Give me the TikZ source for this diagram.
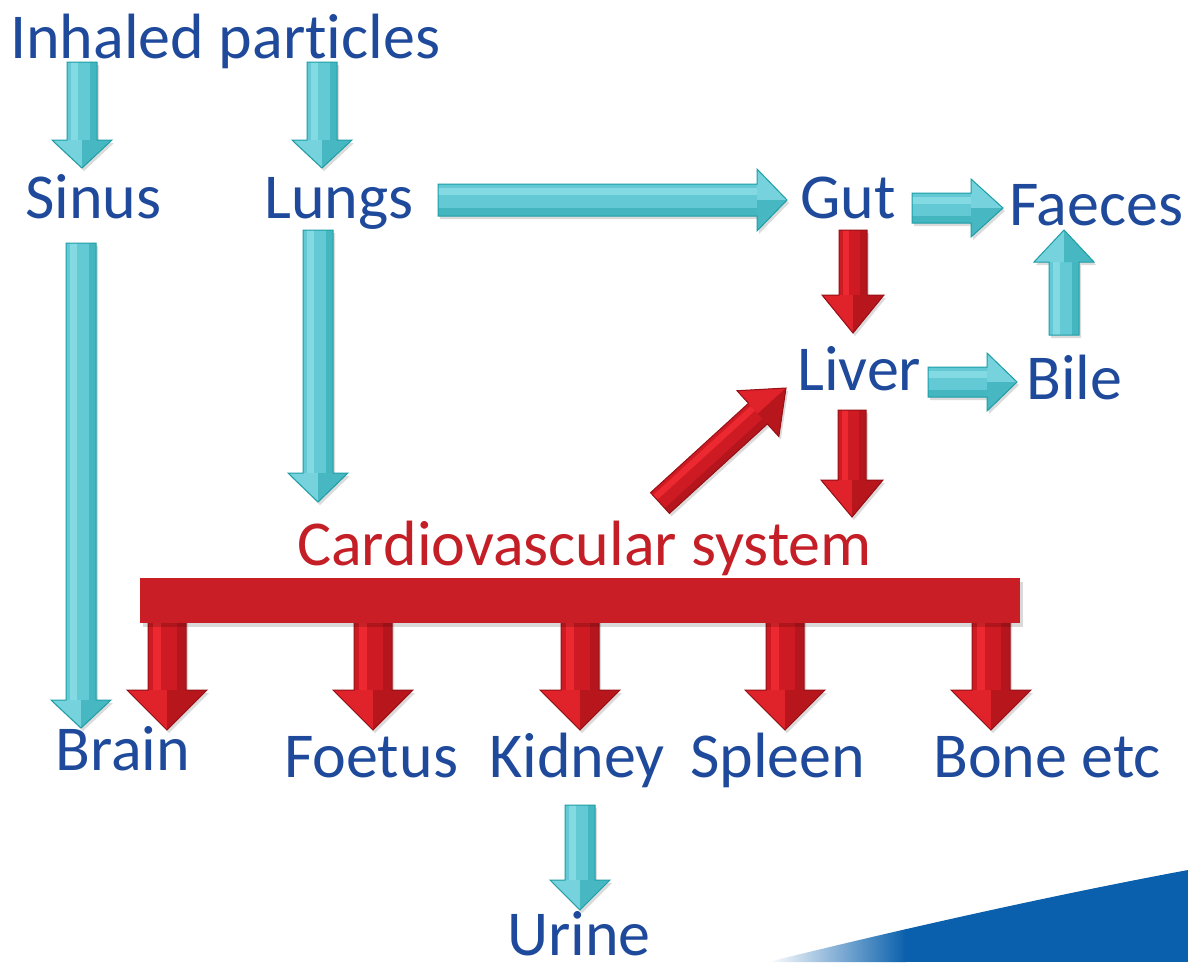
\documentclass[tikz,border=0pt]{standalone}
\usepackage{fontspec}
\setmainfont[Ligatures=NoCommon]{Carlito}
\usetikzlibrary{calc}
\definecolor{tblue}{RGB}{31,74,155}
\definecolor{tred}{RGB}{196,30,38}
\definecolor{cybase}{RGB}{98,201,213}
\definecolor{cylight}{RGB}{132,218,227}
\definecolor{cydark}{RGB}{30,158,166}
\definecolor{rdbase}{RGB}{206,26,34}
\definecolor{rdlight}{RGB}{236,40,48}
\definecolor{rddark}{RGB}{150,16,22}
\definecolor{barred}{RGB}{201,30,37}
\definecolor{swblue}{RGB}{10,96,172}

\makeatletter
\newcommand\blockarrow[6]{%
  \pgfpointdiff{\pgfpointanchor{#2}{center}}{\pgfpointanchor{#3}{center}}%
  \edef\ba@dx{\the\pgf@x}\edef\ba@dy{\the\pgf@y}%
  \pgfmathsetmacro\ba@ang{atan2(\ba@dy,\ba@dx)}%
  \pgfmathsetmacro\ba@len{veclen(\ba@dx,\ba@dy)}%
  \pgfmathsetmacro\ba@s{(sin(\ba@ang)+cos(\ba@ang)+0.01>0) ? 1 : -1}%
  \pgfmathsetmacro\ba@n{(sin(\ba@ang)+cos(\ba@ang)+0.01>0) ? -1 : 1}%
  \pgfmathsetmacro\ba@b{\ba@len-#6}%
  \begin{scope}[shift={(#2)},xshift=2pt,yshift=-3pt,rotate=\ba@ang,x=1pt,y=1pt]
    \fill[black,opacity=.14] (0,-#4) -- (\ba@b,-#4) -- (\ba@b,-#5) -- (\ba@len,0) -- (\ba@b,#5) -- (\ba@b,#4) -- (0,#4) -- cycle;
  \end{scope}
  \begin{scope}[shift={(#2)},rotate=\ba@ang,x=1pt,y=1pt]
    \fill[#1base] (0,-#4) -- (\ba@b,-#4) -- (\ba@b,-#5) -- (\ba@len,0) -- (\ba@b,#5) -- (\ba@b,#4) -- (0,#4) -- cycle;
    \fill[#1dark!45!#1base] (0,{\ba@n*#4}) -- (\ba@b,{\ba@n*#4}) -- (\ba@b,{\ba@n*#4*0.5}) -- (0,{\ba@n*#4*0.5}) -- cycle;
    \fill[#1light] (0,{\ba@s*#4*0.75}) -- (\ba@b,{\ba@s*#4*0.75}) -- (\ba@b,{\ba@s*#4*0.3}) -- (0,{\ba@s*#4*0.3}) -- cycle;
    \fill[#1light!60!#1base] (\ba@b,{\ba@s*#5}) -- (\ba@len,0) -- (\ba@b,0) -- cycle;
    \fill[#1dark!40!#1base] (\ba@b,{\ba@n*#5}) -- (\ba@len,0) -- (\ba@b,0) -- cycle;
    \draw[#1dark,line width=1pt,line join=miter] (0,-#4) -- (\ba@b,-#4) -- (\ba@b,-#5) -- (\ba@len,0) -- (\ba@b,#5) -- (\ba@b,#4) -- (0,#4) -- cycle;
  \end{scope}
}
\makeatother

\tikzset{
  lbl/.style={inner sep=0pt,anchor=base west,text=tblue,font=\fontsize{64}{70}\selectfont},
  rlbl/.style={lbl,text=tred},
}

\begin{document}
\begin{tikzpicture}[x=1pt,y=-1pt]
\useasboundingbox (0,0) rectangle (1188,962);
\fill[white] (0,0) rectangle (1188,962);

% background swoosh
\begin{scope}
  \clip (768,962) .. controls (930,922) and (1080,890) .. (1188,870) -- (1188,962) -- cycle;
  \fill[swblue] (905,850) rectangle (1188,962);
  \shade[left color=white,right color=swblue] (768,850) rectangle (906,962);
\end{scope}

% labels
\node[lbl] (inhaled) at (10,58) {Inhaled particles};
\node[lbl] (sinus) at (25,218) {Sinus};
\node[lbl] (lungs) at (264,218) {Lungs};
\node[lbl] (gut) at (800,218) {Gut};
\node[lbl] (faeces) at (1009,225) {Faeces};
\node[lbl] (liver) at (797,390) {Liver};
\node[lbl] (bile) at (1026,399) {Bile};
\node[rlbl] (cardio) at (297,565) {Cardiovascular system};
\node[lbl] (brain) at (55,770) {Brain};
\node[lbl] (foetus) at (284,777) {Foetus};
\node[lbl] (kidney) at (489,777) {Kidney};
\node[lbl] (spleen) at (690,777) {Spleen};
\node[lbl] (bone) at (933,777) {Bone etc};
\node[lbl] (urine) at (507,955) {Urine};

% arrow end points
\coordinate (inh-sin-a) at (82,62);   \coordinate (inh-sin-b) at (82,168);
\coordinate (inh-lun-a) at (322,62);  \coordinate (inh-lun-b) at (322,168);
\coordinate (lun-gut-a) at (438,200); \coordinate (lun-gut-b) at (787,200);
\coordinate (gut-fae-a) at (912,208); \coordinate (gut-fae-b) at (1003,208);
\coordinate (gut-liv-a) at (853,230); \coordinate (gut-liv-b) at (853,333);
\coordinate (bil-fae-a) at (1064,335);\coordinate (bil-fae-b) at (1064,230);
\coordinate (liv-bil-a) at (928,382); \coordinate (liv-bil-b) at (1017,382);
\coordinate (car-liv-a) at (660,503); \coordinate (car-liv-b) at (786,388);
\coordinate (liv-car-a) at (852,410); \coordinate (liv-car-b) at (852,517);
\coordinate (sin-bra-a) at (81,243);  \coordinate (sin-bra-b) at (81,728);
\coordinate (lun-car-a) at (318,230); \coordinate (lun-car-b) at (318,502);
\coordinate (kid-uri-a) at (580,805); \coordinate (kid-uri-b) at (580,910);
\coordinate (bar-bra-a) at (167,615); \coordinate (bar-bra-b) at (167,730);
\coordinate (bar-foe-a) at (373,615); \coordinate (bar-foe-b) at (373,730);
\coordinate (bar-kid-a) at (580,615); \coordinate (bar-kid-b) at (580,730);
\coordinate (bar-spl-a) at (785,615); \coordinate (bar-spl-b) at (785,730);
\coordinate (bar-bon-a) at (991,615); \coordinate (bar-bon-b) at (991,730);

% cyan arrows
\blockarrow{cy}{inh-sin-a}{inh-sin-b}{15}{30}{28}
\blockarrow{cy}{inh-lun-a}{inh-lun-b}{15}{30}{28}
\blockarrow{cy}{lun-gut-a}{lun-gut-b}{16}{31}{30}
\blockarrow{cy}{gut-fae-a}{gut-fae-b}{15}{29}{32}
\blockarrow{cy}{bil-fae-a}{bil-fae-b}{15}{30}{32}
\blockarrow{cy}{liv-bil-a}{liv-bil-b}{15}{29}{30}
\blockarrow{cy}{sin-bra-a}{sin-bra-b}{15}{30}{28}
\blockarrow{cy}{lun-car-a}{lun-car-b}{15}{30}{29}
\blockarrow{cy}{kid-uri-a}{kid-uri-b}{15}{30}{30}

% red arrows
\blockarrow{rd}{gut-liv-a}{gut-liv-b}{14}{31}{38}
\blockarrow{rd}{car-liv-a}{car-liv-b}{14}{31}{38}
\blockarrow{rd}{liv-car-a}{liv-car-b}{14}{31}{37}
\blockarrow{rd}{bar-bra-a}{bar-bra-b}{19}{40}{40}
\blockarrow{rd}{bar-foe-a}{bar-foe-b}{19}{40}{40}
\blockarrow{rd}{bar-kid-a}{bar-kid-b}{19}{40}{40}
\blockarrow{rd}{bar-spl-a}{bar-spl-b}{19}{40}{40}
\blockarrow{rd}{bar-bon-a}{bar-bon-b}{19}{40}{40}

% cardiovascular bar
\fill[black,opacity=.15] (143,582) rectangle (1023,627);
\fill[barred] (140,578) rectangle (1020,623);
\end{tikzpicture}
\end{document}
